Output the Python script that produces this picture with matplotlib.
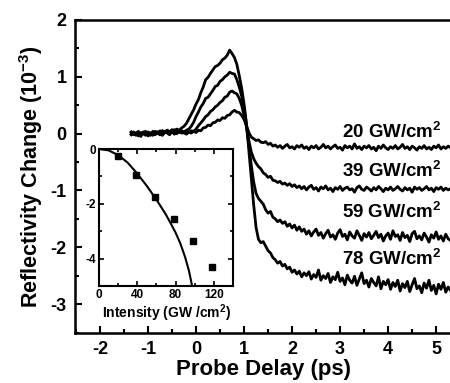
import matplotlib
matplotlib.use("Agg")
import matplotlib.pyplot as plt
from matplotlib.ticker import MultipleLocator

plt.rcParams['font.family'] = ['Liberation Sans', 'DejaVu Sans']
plt.rcParams['font.weight'] = 'bold'
plt.rcParams['axes.unicode_minus'] = False
plt.rcParams['mathtext.fontset'] = 'custom'
plt.rcParams['mathtext.rm'] = 'Liberation Sans:bold'
plt.rcParams['mathtext.bf'] = 'Liberation Sans:bold'
plt.rcParams['mathtext.default'] = 'bf'

# probe delay (ps), 0.05 ps scan steps
delay = [-1.35, -1.30, -1.25, -1.20, -1.15, -1.10, -1.05, -1.00, -0.95, -0.90,
         -0.85, -0.80, -0.75, -0.70, -0.65, -0.60, -0.55, -0.50, -0.45, -0.40,
         -0.35, -0.30,
         -0.25, -0.20, -0.15, -0.10, -0.05, 0.00, 0.05, 0.10, 0.15, 0.20,
         0.25, 0.30, 0.35, 0.40, 0.45, 0.50, 0.55, 0.60,
         0.65, 0.70, 0.75, 0.80, 0.85, 0.90, 0.95, 1.00, 1.05, 1.10,
         1.15, 1.20, 1.25, 1.30, 1.35, 1.40, 1.45, 1.50, 1.55, 1.60,
         1.65, 1.70, 1.75, 1.80, 1.85, 1.90, 1.95, 2.00, 2.05, 2.10,
         2.15, 2.20, 2.25, 2.30, 2.35, 2.40, 2.45, 2.50, 2.55, 2.60,
         2.65, 2.70, 2.75, 2.80, 2.85, 2.90, 2.95, 3.00, 3.05, 3.10,
         3.15, 3.20, 3.25, 3.30, 3.35, 3.40, 3.45, 3.50, 3.55, 3.60,
         3.65, 3.70, 3.75, 3.80, 3.85, 3.90, 3.95, 4.00, 4.05, 4.10,
         4.15, 4.20, 4.25, 4.30, 4.35, 4.40, 4.45, 4.50, 4.55, 4.60,
         4.65, 4.70, 4.75, 4.80, 4.85, 4.90, 4.95, 5.00, 5.05, 5.10,
         5.15, 5.20, 5.25, 5.30]

# reflectivity change (10^-3) for each pump intensity
r20 = [0.02, -0.02, 0.01, 0.04, -0.03, 0.00, 0.03, -0.04, -0.01, 0.02,
       -0.02, 0.03, 0.00, -0.03, 0.04, 0.01, -0.02, 0.05, 0.02, 0.00,
       0.04, 0.01,
       0.02, -0.01, 0.03, 0.01, 0.04, 0.02, 0.06, 0.05, 0.10, 0.11,
       0.15, 0.14, 0.19, 0.20, 0.24, 0.23, 0.28, 0.27,
       0.32, 0.33, 0.38, 0.41, 0.38, 0.37, 0.32, 0.25, 0.14, 0.02,
       -0.06, -0.09, -0.12, -0.11, -0.15, -0.16, -0.14, -0.19, -0.17, -0.22,
       -0.20, -0.24, -0.21, -0.26, -0.22, -0.19, -0.25, -0.23, -0.27, -0.21,
       -0.24, -0.20, -0.26, -0.23, -0.28, -0.22, -0.25, -0.21, -0.27, -0.24,
       -0.19, -0.25, -0.22, -0.27, -0.23, -0.20, -0.26, -0.24, -0.29, -0.21,
       -0.25, -0.22, -0.27, -0.18, -0.26, -0.23, -0.28, -0.22, -0.25, -0.21,
       -0.27, -0.24, -0.30, -0.22, -0.26, -0.20, -0.25, -0.28, -0.23, -0.26,
       -0.21, -0.27, -0.24, -0.19, -0.26, -0.23, -0.28, -0.22, -0.25, -0.29,
       -0.23, -0.26, -0.21, -0.27, -0.24, -0.28, -0.22, -0.25, -0.20, -0.27,
       -0.23, -0.26, -0.22, -0.25]
r39 = [-0.01, 0.03, -0.02, 0.01, -0.04, 0.02, 0.04, -0.01, 0.01, -0.03,
       0.03, 0.00, 0.05, -0.02, 0.02, 0.04, 0.00, 0.03, -0.01, 0.05,
       0.02, 0.04,
       0.01, 0.03, 0.02, 0.05, 0.04, 0.08, 0.14, 0.19, 0.24, 0.30,
       0.33, 0.39, 0.42, 0.47, 0.50, 0.55, 0.58, 0.64,
       0.66, 0.73, 0.75, 0.72, 0.70, 0.62, 0.50, 0.32, 0.12, -0.12,
       -0.32, -0.44, -0.52, -0.58, -0.62, -0.69, -0.72, -0.77, -0.75, -0.82,
       -0.83, -0.86, -0.84, -0.89, -0.87, -0.91, -0.88, -0.93, -0.90, -0.95,
       -0.92, -0.97, -0.93, -0.99, -0.94, -0.91, -0.98, -0.95, -1.01, -0.94,
       -0.97, -0.92, -0.99, -0.96, -1.02, -0.95, -0.98, -0.93, -1.00, -0.96,
       -0.94, -0.99, -0.97, -1.03, -0.95, -0.92, -0.98, -1.00, -0.94, -0.97,
       -1.01, -0.95, -0.99, -0.93, -0.97, -1.02, -0.96, -0.99, -0.94, -1.00,
       -0.97, -0.93, -0.98, -1.01, -0.95, -0.99, -0.96, -1.03, -0.94, -0.98,
       -0.95, -1.00, -0.97, -0.93, -0.99, -0.96, -1.02, -0.95, -0.98, -0.94,
       -1.00, -0.96, -0.99, -0.97]
r59 = [0.03, -0.02, 0.01, -0.04, 0.02, 0.00, -0.03, 0.03, 0.01, -0.01,
       0.04, 0.02, -0.02, 0.05, 0.03, 0.06, 0.01, 0.04, 0.07, 0.03,
       0.06, 0.05,
       0.03, 0.06, 0.08, 0.13, 0.20, 0.30, 0.38, 0.47, 0.53, 0.62,
       0.64, 0.70, 0.76, 0.83, 0.85, 0.92, 0.95, 1.00,
       1.03, 1.08, 1.06, 1.05, 0.95, 0.82, 0.66, 0.45, 0.15, -0.20,
       -0.55, -0.85, -1.05, -1.14, -1.19, -1.24, -1.34, -1.40, -1.37, -1.47,
       -1.50, -1.55, -1.52, -1.58, -1.55, -1.63, -1.59, -1.66, -1.61, -1.70,
       -1.64, -1.72, -1.68, -1.77, -1.71, -1.80, -1.73, -1.68, -1.79, -1.74,
       -1.84, -1.76, -1.70, -1.82, -1.78, -1.86, -1.75, -1.69, -1.81, -1.77,
       -1.87, -1.73, -1.80, -1.84, -1.71, -1.79, -1.88, -1.76, -1.82, -1.74,
       -1.85, -1.79, -1.72, -1.83, -1.77, -1.89, -1.80, -1.75, -1.86, -1.71,
       -1.81, -1.78, -1.88, -1.74, -1.83, -1.79, -1.90, -1.76, -1.72, -1.85,
       -1.80, -1.87, -1.75, -1.82, -1.91, -1.78, -1.84, -1.73, -1.86, -1.80,
       -1.89, -1.77, -1.85, -1.88]
r78 = [-0.02, 0.02, -0.03, 0.01, -0.05, 0.03, -0.01, 0.02, -0.03, 0.04,
       0.00, 0.03, -0.02, 0.05, 0.02, 0.06, 0.03, 0.07, 0.04, 0.08,
       0.06, 0.10,
       0.13, 0.18, 0.26, 0.34, 0.42, 0.52, 0.60, 0.72, 0.82, 0.95,
       0.99, 1.06, 1.12, 1.18, 1.20, 1.24, 1.30, 1.33,
       1.38, 1.47, 1.41, 1.34, 1.22, 1.02, 0.80, 0.52, 0.18, -0.30,
       -0.80, -1.25, -1.65, -1.86, -1.92, -1.90, -1.98, -2.06, -2.10, -2.18,
       -2.22, -2.28, -2.25, -2.33, -2.30, -2.38, -2.35, -2.44, -2.40, -2.47,
       -2.42, -2.52, -2.45, -2.50, -2.43, -2.56, -2.48, -2.53, -2.40, -2.58,
       -2.50, -2.55, -2.46, -2.62, -2.52, -2.57, -2.44, -2.60, -2.54, -2.66,
       -2.49, -2.58, -2.63, -2.51, -2.67, -2.56, -2.45, -2.64, -2.58, -2.70,
       -2.55, -2.62, -2.68, -2.52, -2.73, -2.60, -2.66, -2.57, -2.74, -2.62,
       -2.69, -2.58, -2.77, -2.64, -2.71, -2.60, -2.78, -2.66, -2.55, -2.73,
       -2.68, -2.80, -2.63, -2.72, -2.58, -2.76, -2.67, -2.82, -2.65, -2.74,
       -2.62, -2.79, -2.70, -2.76]
traces = [r20, r39, r59, r78]
labels = ["20 GW/cm$^{2}$", "39 GW/cm$^{2}$", "59 GW/cm$^{2}$", "78 GW/cm$^{2}$"]
label_y = [-0.07, -0.77, -1.49, -2.32]

# inset: peak change vs intensity, and fitted curve
intensity = [20, 39, 59, 78, 98, 118]
peak_change = [-0.26, -0.95, -1.76, -2.55, -3.35, -4.32]
fit_x = [0, 10, 20, 30, 40, 50, 60, 65, 70, 75, 80, 85, 90, 94, 97, 98]
fit_y = [0, -0.05, -0.22, -0.5, -0.9, -1.35, -1.85, -2.12, -2.4, -2.72,
         -3.05, -3.45, -3.95, -4.45, -4.95, -5.1]

fig = plt.figure(figsize=(4.5, 3.83), dpi=100)
ax = fig.add_axes([75 / 450, 1 - 332.5 / 383, 377 / 450, 312.5 / 383])

for r in traces:
    ax.plot(delay, r, color='black', lw=2.0)
for lab, yy in zip(labels, label_y):
    ax.text(3.04, yy, lab, fontsize=13.5, fontweight='bold', ha='left', va='baseline')

ax.set_xlim(-2.52, 5.33)
ax.set_ylim(-3.5, 2.0)
ax.xaxis.set_major_locator(MultipleLocator(1))
ax.xaxis.set_minor_locator(MultipleLocator(0.5))
ax.yaxis.set_major_locator(MultipleLocator(1))
ax.yaxis.set_minor_locator(MultipleLocator(0.5))
ax.tick_params(which='both', direction='in', width=1.5, labelsize=13, top=False, right=False)
ax.tick_params(which='major', length=5, pad=6)
ax.tick_params(which='minor', length=3)
for lab in ax.get_xticklabels() + ax.get_yticklabels():
    lab.set_fontweight('bold')
for s in ax.spines.values():
    s.set_linewidth(1.8)
ax.spines['right'].set_visible(False)
ax.set_xlabel("Probe Delay (ps)", fontsize=16, fontweight='bold', labelpad=1)
ax.set_ylabel("Reflectivity Change (10$^{-3}$)", fontsize=15.5, fontweight='bold', labelpad=4)

ins = fig.add_axes([99 / 450, 1 - 286 / 383, 134 / 450, 137 / 383])
ins.plot(fit_x, fit_y, color='black', lw=1.5)
ins.plot(intensity, peak_change, 's', color='black', ms=5)
ins.set_xlim(0, 140)
ins.set_ylim(-5, 0)
ins.xaxis.set_major_locator(MultipleLocator(40))
ins.xaxis.set_minor_locator(MultipleLocator(20))
ins.yaxis.set_major_locator(MultipleLocator(2))
ins.yaxis.set_minor_locator(MultipleLocator(1))
ins.tick_params(which='both', direction='in', width=1.2, labelsize=8.5, top=True, right=True)
ins.tick_params(which='major', length=3.5, pad=2)
ins.tick_params(which='minor', length=2)
for lab in ins.get_xticklabels() + ins.get_yticklabels():
    lab.set_fontweight('bold')
for s in ins.spines.values():
    s.set_linewidth(1.5)
ins.set_xlabel("Intensity (GW /cm$^{2}$)", fontsize=10, fontweight='bold', labelpad=1)

fig.savefig("out.png", dpi=100)
